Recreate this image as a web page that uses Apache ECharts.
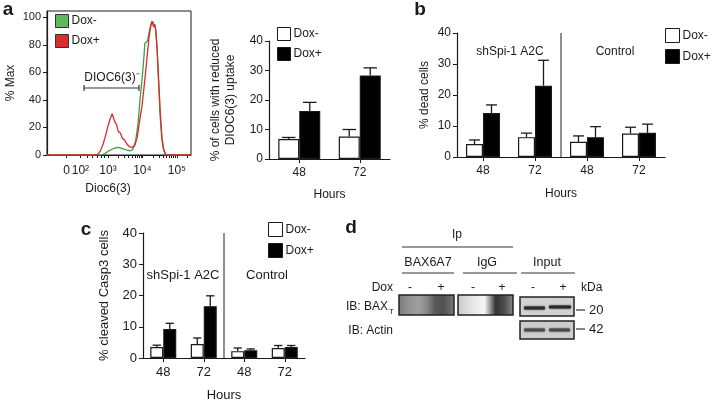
<!DOCTYPE html>
<html>
<head>
<meta charset="utf-8">
<script src="https://cdn.jsdelivr.net/npm/echarts@6/dist/echarts.min.js"></script>
<style>
  html, body { margin: 0; padding: 0; background: #fff; }
  #fig { width: 712px; height: 403px; }
</style>
</head>
<body>
<div id="fig"></div>
<script>
// ---- panel a: flow histogram (x in decades of Dioc6(3) signal, y = % Max)
var histDoxMinus = [[1.23,0],[2.8,0],[2.9,0.8],[3.0,2.5],[3.1,4],[3.2,5],[3.29,5.5],[3.38,5],[3.46,4.2],[3.55,3.5],
  [3.64,3],[3.72,4],[3.8,10],[3.87,22],[3.93,40],[3.99,55],[4.04,70],[4.07,81],[4.11,80],[4.15,83],[4.2,90],
  [4.25,95],[4.3,97],[4.34,96],[4.38,92],[4.42,80],[4.46,58],[4.51,30],[4.56,12],[4.61,4],[4.67,0],[5.41,0]];
var histDoxPlus = [[1.23,0],[2.6,0],[2.7,0.5],[2.78,3],[2.86,8],[2.94,15],[3.0,21],[3.06,26],[3.12,30],[3.16,29],
  [3.2,24],[3.25,22],[3.3,17],[3.36,16],[3.42,12],[3.48,11],[3.55,8],[3.62,6],[3.7,5.5],[3.78,7],[3.85,13],
  [3.92,25],[3.99,36],[4.05,50],[4.1,62],[4.15,75],[4.19,85],[4.23,92],[4.27,97],[4.3,98],[4.33,93],[4.36,95],
  [4.39,90],[4.43,75],[4.47,55],[4.52,30],[4.57,12],[4.62,4],[4.68,0],[5.41,0]];
var histTickPos = [1.8, 2.2, 3, 4, 5];
var histTickLabels = ['0', '10²', '10³', '10⁴', '10⁵'];
var histYTicks = [0, 20, 40, 60, 80, 100];

// ---- panel a: reduced DIOC6(3) uptake
var aHours = ['48', '72'];
var aDoxMinus = [6.8, 7.6];
var aDoxMinusErr = [0.5, 2.4];
var aDoxPlus = [16.3, 28.3];
var aDoxPlusErr = [2.9, 2.6];

// ---- panel b: % dead cells (shSpi-1 A2C 48/72, Control 48/72)
var bHours = ['48', '72', '48', '72'];
var bDoxMinus = [4.2, 6.4, 4.9, 7.6];
var bDoxMinusErr = [1.3, 1.3, 1.9, 2.0];
var bDoxPlus = [14.2, 23.0, 6.4, 7.8];
var bDoxPlusErr = [2.6, 8.2, 3.4, 2.8];

// ---- panel c: % cleaved Casp3 cells
var cHours = ['48', '72', '48', '72'];
var cDoxMinus = [3.5, 4.5, 2.2, 3.2];
var cDoxMinusErr = [0.6, 1.9, 1.0, 0.8];
var cDoxPlus = [9.3, 16.6, 2.5, 3.5];
var cDoxPlusErr = [1.8, 3.3, 0.4, 0.5];

var FONT = '"Liberation Sans", Arial, Helvetica, sans-serif';
var INK = '#1a1a1a';

// minor ticks for the log-ish axis
var histMinorTicks = [1.8, 2.2];
[3, 4].forEach(function (d) {
  for (var k = 1; k <= 9; k++) histMinorTicks.push(d + Math.log10(k));
});
histMinorTicks.push(5, 5 + Math.log10(2), 5 + Math.log10(3));
[2.4, 2.55, 2.7, 2.8, 2.9].forEach(function (v) { histMinorTicks.push(v); });

function valueAxis(gi, fontSize, name, nameGap) {
  return {
    type: 'value', gridIndex: gi, min: 0, max: 40, interval: 10,
    name: name, nameLocation: 'middle', nameGap: nameGap, nameRotate: 90,
    nameTextStyle: { fontSize: fontSize, color: INK, lineHeight: fontSize + 3 },
    axisLine: { show: true, lineStyle: { color: INK, width: 1.2 } },
    axisTick: { show: true, length: 4, lineStyle: { color: INK } },
    axisLabel: { fontSize: fontSize, color: INK, margin: 6 },
    splitLine: { show: false }
  };
}

function catAxis(gi, data, fontSize, nameGap) {
  return {
    type: 'category', gridIndex: gi, data: data,
    name: 'Hours', nameLocation: 'middle', nameGap: nameGap,
    nameTextStyle: { fontSize: fontSize, color: INK },
    axisLine: { lineStyle: { color: INK, width: 1.2 } },
    axisTick: { show: true, alignWithLabel: true, length: 4, lineStyle: { color: INK } },
    axisLabel: { fontSize: fontSize, color: INK, margin: 8 }
  };
}

function bars(gi, name, values, fill, width) {
  return {
    type: 'bar', name: name, xAxisIndex: gi, yAxisIndex: gi, data: values,
    barWidth: width, barGap: '0%',
    itemStyle: { color: fill, borderColor: INK, borderWidth: 1.2 },
    z: 2
  };
}

// upward-only error bars sitting on top of each bar
function errorBars(gi, values, errs, side, width) {
  return {
    type: 'custom', xAxisIndex: gi, yAxisIndex: gi,
    data: values.map(function (v, i) { return [i, v, v + errs[i]]; }),
    renderItem: function (params, api) {
      var base = api.coord([api.value(0), api.value(1)]);
      var top = api.coord([api.value(0), api.value(2)]);
      var x = base[0] + side * width / 2;
      var cap = width * 0.32;
      var st = { stroke: INK, lineWidth: 1.3 };
      return {
        type: 'group',
        children: [
          { type: 'line', shape: { x1: x, y1: base[1], x2: x, y2: top[1] }, style: st },
          { type: 'line', shape: { x1: x - cap, y1: top[1], x2: x + cap, y2: top[1] }, style: st }
        ]
      };
    },
    z: 3
  };
}

// vertical separator between the shSpi-1 and Control groups
function divider(gi) {
  return {
    type: 'custom', xAxisIndex: gi, yAxisIndex: gi,
    data: [[1, 0, 40]],
    renderItem: function (params, api) {
      var a = api.coord([1, 0]);
      var b = api.coord([2, 0]);
      var t = api.coord([1, 40]);
      var x = (a[0] + b[0]) / 2;
      return { type: 'line', shape: { x1: x, y1: a[1], x2: x, y2: t[1] }, style: { stroke: '#555', lineWidth: 1.3 } };
    },
    silent: true
  };
}

function legendAt(left, top, size, gap, minusColor, plusColor, border) {
  return {
    left: left, top: top, orient: 'vertical', padding: 0,
    itemWidth: size, itemHeight: size, itemGap: gap, icon: 'rect',
    selectedMode: false,
    textStyle: { fontSize: 12, color: INK, padding: [0, 0, 0, -2] },
    data: [
      { name: 'Dox-', itemStyle: { color: minusColor, borderColor: border, borderWidth: 1 } },
      { name: 'Dox+', itemStyle: { color: plusColor, borderColor: border, borderWidth: 1 } }
    ]
  };
}

function txt(text, x, y, size, align, extra) {
  var s = { text: text, x: x, y: y, font: (extra || '') + ' ' + size + 'px ' + FONT, fill: INK,
    textAlign: align || 'center', textVerticalAlign: 'middle' };
  return { type: 'text', style: s, silent: true };
}
function hline(x1, x2, y) {
  return { type: 'line', shape: { x1: x1, y1: y, x2: x2, y2: y }, style: { stroke: '#333', lineWidth: 1.2 }, silent: true };
}
function grad(stops) {
  return { type: 'linear', x: 0, y: 0, x2: 1, y2: 0,
    colorStops: stops.map(function (s) { return { offset: s[0], color: s[1] }; }) };
}
function box(x, y, w, h, fill) {
  return { type: 'rect', shape: { x: x, y: y, width: w, height: h }, style: { fill: fill, stroke: '#222', lineWidth: 1.5 }, silent: true };
}
function band(x, y, w, h, color) {
  return { type: 'rect', shape: { x: x, y: y, width: w, height: h, r: 1 },
    style: { fill: color, shadowBlur: 2, shadowColor: color }, silent: true };
}

var chart = echarts.init(document.getElementById('fig'));

var option = {
  animation: false,
  textStyle: { fontFamily: FONT },
  grid: [
    { left: 47, top: 11, width: 144, height: 144, show: true, borderColor: INK, borderWidth: 1, backgroundColor: 'transparent' },
    { left: 269, top: 41, width: 121, height: 118 },
    { left: 457, top: 33, width: 208, height: 124 },
    { left: 143, top: 233, width: 162, height: 130 }
  ],
  xAxis: [
    {
      type: 'value', gridIndex: 0, min: 1.23, max: 5.41,
      axisLine: { lineStyle: { color: INK, width: 1.2 } },
      axisTick: { show: true, length: 3, customValues: histMinorTicks, lineStyle: { color: INK } },
      axisLabel: {
        fontSize: 12, color: INK, margin: 10, customValues: histTickPos,
        formatter: function (v) {
          var i = histTickPos.indexOf(v);
          return i >= 0 ? histTickLabels[i] : '';
        }
      },
      splitLine: { show: false }
    },
    catAxis(1, aHours, 12, 30),
    catAxis(2, bHours, 12, 31),
    catAxis(3, cHours, 13, 31)
  ],
  yAxis: [
    {
      type: 'value', gridIndex: 0, min: 0, max: 104.6,
      name: '% Max', nameLocation: 'middle', nameGap: 30, nameRotate: 90,
      nameTextStyle: { fontSize: 12, color: INK },
      axisLine: { show: true, lineStyle: { color: INK, width: 1.2 } },
      axisTick: { show: true, length: 4, customValues: histYTicks, lineStyle: { color: INK } },
      axisLabel: { fontSize: 11, color: INK, margin: 6, customValues: histYTicks },
      splitLine: { show: false }
    },
    valueAxis(1, 12, '% of cells with reduced\nDIOC6(3) uptake', 31),
    valueAxis(2, 12, '% dead cells', 25),
    valueAxis(3, 13, '% cleaved Casp3 cells', 31)
  ],
  legend: [
    legendAt(55, 14, 13, 6, '#5cb85c', '#dd2a2f', '#333'),
    legendAt(277, 27, 13, 6, '#ffffff', '#000000', INK),
    legendAt(665, 28, 14, 6, '#ffffff', '#000000', INK),
    legendAt(268, 222, 14, 6, '#ffffff', '#000000', INK)
  ],
  series: [
    {
      type: 'line', name: 'Dox-', xAxisIndex: 0, yAxisIndex: 0, data: histDoxMinus,
      showSymbol: false, symbol: 'none', lineStyle: { color: '#3f9f3f', width: 1.3 }, itemStyle: { color: '#3f9f3f' }, z: 2
    },
    {
      type: 'line', name: 'Dox+', xAxisIndex: 0, yAxisIndex: 0, data: histDoxPlus,
      showSymbol: false, symbol: 'none', lineStyle: { color: '#dd2a2f', width: 1.3 }, itemStyle: { color: '#dd2a2f' }, z: 3
    },

    bars(1, 'Dox-', aDoxMinus, '#ffffff', 21),
    bars(1, 'Dox+', aDoxPlus, '#000000', 21),
    errorBars(1, aDoxMinus, aDoxMinusErr, -1, 21),
    errorBars(1, aDoxPlus, aDoxPlusErr, 1, 21),

    bars(2, 'Dox-', bDoxMinus, '#ffffff', 17),
    bars(2, 'Dox+', bDoxPlus, '#000000', 17),
    errorBars(2, bDoxMinus, bDoxMinusErr, -1, 17),
    errorBars(2, bDoxPlus, bDoxPlusErr, 1, 17),
    divider(2),

    bars(3, 'Dox-', cDoxMinus, '#ffffff', 13),
    bars(3, 'Dox+', cDoxPlus, '#000000', 13),
    errorBars(3, cDoxMinus, cDoxMinusErr, -1, 13),
    errorBars(3, cDoxPlus, cDoxPlusErr, 1, 13),
    divider(3)
  ],
  graphic: [
    // panel letters
    txt('a', 8, 10, 19, 'center', 'bold'),
    txt('b', 420, 10, 19, 'center', 'bold'),
    txt('c', 86, 230, 19, 'center', 'bold'),
    txt('d', 351, 228, 19, 'center', 'bold'),

    // histogram gate + axis title
    txt('DIOC6(3)⁻', 112, 78, 12),
    hline(84, 139, 88),
    { type: 'line', shape: { x1: 84, y1: 85, x2: 84, y2: 91 }, style: { stroke: '#333', lineWidth: 1.2 }, silent: true },
    { type: 'line', shape: { x1: 139, y1: 85, x2: 139, y2: 91 }, style: { stroke: '#333', lineWidth: 1.2 }, silent: true },
    txt('Dioc6(3)', 108, 189, 12),

    // group captions
    txt('shSpi-1 A2C', 510, 52, 12),
    txt('Control', 615, 52, 12),
    txt('shSpi-1 A2C', 183, 275, 13),
    txt('Control', 267, 275, 13),

    // panel d: immunoprecipitation blot
    txt('Ip', 457, 235, 12),
    hline(402, 513, 247),
    txt('BAX6A7', 428, 263, 12.5),
    hline(402, 454, 273),
    txt('IgG', 487, 263, 12.5),
    hline(463, 517, 273),
    txt('Input', 547, 263, 12.5),
    hline(521, 575, 273),
    txt('Dox', 393, 288, 12, 'right'),
    txt('-', 410, 288, 12), txt('+', 441, 288, 12),
    txt('-', 473, 288, 12), txt('+', 502, 288, 12),
    txt('-', 533, 288, 12), txt('+', 563, 288, 12),
    txt('kDa', 581, 288, 12, 'left'),
    txt('IB: BAX', 388, 307, 12, 'right'),
    txt('T', 389, 312, 8, 'left'),
    txt('IB: Actin', 393, 331, 12, 'right'),

    box(399, 295, 55, 20, grad([[0, '#7c7c7c'], [0.15, '#8e8e8e'], [0.35, '#a0a0a0'], [0.5, '#8a8a8a'],
      [0.65, '#5a5a5a'], [0.8, '#505050'], [0.92, '#6a6a6a'], [1, '#7e7e7e']])),
    box(458, 295, 55, 20, grad([[0, '#c8c8c8'], [0.25, '#e4e4e4'], [0.48, '#f6f6f6'], [0.55, '#b8b8b8'],
      [0.68, '#333333'], [0.82, '#4a4a4a'], [1, '#8a8a8a']])),
    box(520, 297, 54, 19, '#d2d2d2'),
    band(524, 306.5, 21, 3, '#2a2a2a'),
    band(549, 305.5, 22, 3, '#2a2a2a'),
    box(520, 321, 54, 18, '#cdcdcd'),
    band(524, 328.5, 21, 3, '#4a4a4a'),
    band(549, 328.5, 21, 3, '#4a4a4a'),
    hline(576, 585, 310),
    txt('20', 589, 310, 13, 'left'),
    hline(576, 585, 329),
    txt('42', 589, 329, 13, 'left')
  ]
};

chart.setOption(option);
</script>
</body>
</html>
